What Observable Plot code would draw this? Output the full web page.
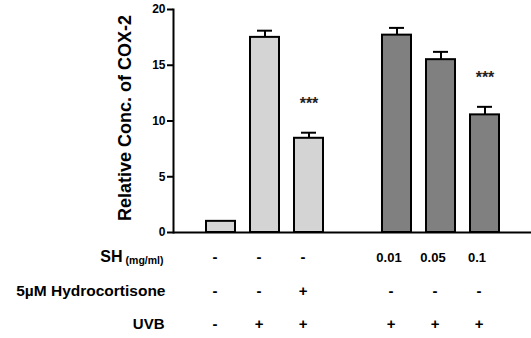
<!DOCTYPE html>
<html><head><meta charset="utf-8">
<script src="https://cdn.jsdelivr.net/npm/d3@7"></script>
<script src="https://cdn.jsdelivr.net/npm/@observablehq/plot@0.6"></script>
<style>body{margin:0;background:#fff}svg{font-family:"Liberation Sans",Arial,sans-serif}</style>
</head><body><div id="chart"></div>
<script>
const groups = ["g1","g2","g3","gap","g4","g5","g6"];
const ids = ["g1","g2","g3","g4","g5","g6"];
const means = [1.0, 17.5, 8.45, 17.7, 15.5, 10.55];
const errs = [0, 0.6, 0.5, 0.65, 0.7, 0.72];
const fills = ["#d4d4d4","#d4d4d4","#d4d4d4","#808080","#808080","#808080"];
const stars = ["","","***","","","***"];
const shRow = ["-","-","-","0.01","0.05","0.1"];
const hcRow = ["-","-","+","-","-","-"];
const uvbRow = ["-","+","+","+","+","+"];
const yTicks = [0,5,10,15,20];

const data = ids.map((id,i)=>({id, mean:means[i], err:errs[i], fill:fills[i], star:stars[i], sh:shRow[i], hc:hcRow[i], uvb:uvbRow[i]}));
const sym = s => /^[-+]$/.test(s);

const chart = Plot.plot({
  width: 531, height: 338,
  marginLeft: 173, marginRight: 0, marginTop: 9, marginBottom: 106,
  style: {fontFamily: '"Liberation Sans", Arial, sans-serif', background: "#fff"},
  x: {type: "band", domain: groups, range: [196.6, 509.5], paddingInner: 0.33, paddingOuter: 0.165, axis: null},
  y: {domain: [0, 20], ticks: yTicks},
  marks: [
    Plot.axisY({ticks: yTicks, tickSize: 6, tickPadding: 2, label: null, fontSize: 12, fontWeight: "bold", stroke: "#000", strokeWidth: 2, fill: "#000"}),
    Plot.frame({anchor: "left", stroke: "#000", strokeWidth: 2}),
    Plot.ruleX(data, {x: "id", y1: "mean", y2: d => d.mean + d.err, stroke: "#000", strokeWidth: 2}),
    Plot.tickY(data.filter(d=>d.err>0), {x: "id", y: d => d.mean + d.err, stroke: "#000", strokeWidth: 2, insetLeft: 7, insetRight: 7}),
    Plot.barY(data, {x: "id", y: "mean", fill: "fill", stroke: "#000", strokeWidth: 2}),
    Plot.ruleY([0], {stroke: "#000", strokeWidth: 2}),
    Plot.text(data.filter(d=>d.star), {x: "id", y: d => d.mean + d.err, text: "star", dy: -29, fontSize: 16, fontWeight: "bold", fill: "#222"}),
    Plot.text(["Relative Conc. of COX-2"], {frameAnchor: "left", textAnchor: "middle", rotate: -90, dx: -48, dy: -3, fontSize: 18, fontWeight: "bold", fill: "#000"}),
    Plot.text(data.filter(d=>sym(d.sh)), {x: "id", text: "sh", frameAnchor: "bottom", dy: 29, dx: -6, fontSize: 15, fontWeight: "bold", fill: "#000"}),
    Plot.text(data.filter(d=>!sym(d.sh)), {x: "id", text: "sh", frameAnchor: "bottom", dy: 29, dx: -8, fontSize: 13, fontWeight: "bold", fill: "#000"}),
    Plot.text(data, {x: "id", text: "hc", frameAnchor: "bottom", dy: 63, dx: -6, fontSize: 15, fontWeight: "bold", fill: "#000"}),
    Plot.text(data, {x: "id", text: "uvb", frameAnchor: "bottom", dy: 96, dx: -6, fontSize: 15, fontWeight: "bold", fill: "#000"}),
    Plot.text(["(mg/ml)"], {frameAnchor: "bottom-left", textAnchor: "end", dx: -10, dy: 31, fontSize: 10.5, fontWeight: "bold", fill: "#000"}),
    Plot.text(["SH"], {frameAnchor: "bottom-left", textAnchor: "end", dx: -51, dy: 29, fontSize: 16, fontWeight: "bold", fill: "#000"}),
    Plot.text(["5\u00b5M Hydrocortisone"], {frameAnchor: "bottom-left", textAnchor: "end", dx: -8, dy: 63, fontSize: 15.5, fontWeight: "bold", fill: "#000"}),
    Plot.text(["UVB"], {frameAnchor: "bottom-left", textAnchor: "end", dx: -9, dy: 96, fontSize: 15, fontWeight: "bold", fill: "#000"})
  ]
});
document.getElementById("chart").appendChild(chart);
</script>
</body></html>
